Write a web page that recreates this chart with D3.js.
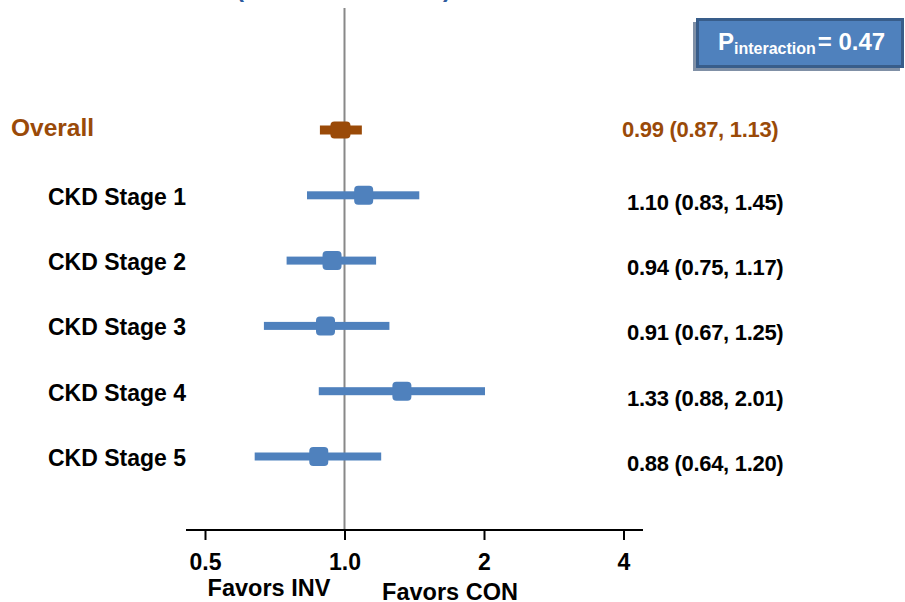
<!DOCTYPE html>
<html>
<head>
<meta charset="utf-8">
<script src="https://cdn.jsdelivr.net/npm/d3@7"></script>
<style>
	body { margin: 0; background: #fff; }
	text { font-family: "Liberation Sans", Arial, sans-serif; font-weight: bold; }
</style>
</head>
<body>
<svg id="mySVG" width="905" height="602"></svg>
<script>

// rows, top to bottom
var categories = ['Overall', 'CKD Stage 1', 'CKD Stage 2', 'CKD Stage 3', 'CKD Stage 4', 'CKD Stage 5'];
// hazard ratio and the drawn interval
var estimate = [0.98, 1.10, 0.94, 0.91, 1.33, 0.88];
var lower = [0.885, 0.83, 0.75, 0.67, 0.88, 0.64];
var upper = [1.09, 1.45, 1.17, 1.25, 2.01, 1.20];
// the printed text on the right
var ciLabels = ['0.99 (0.87, 1.13)', '1.10 (0.83, 1.45)', '0.94 (0.75, 1.17)', '0.91 (0.67, 1.25)', '1.33 (0.88, 2.01)', '0.88 (0.64, 1.20)'];
var tickValues = [0.5, 1, 2, 4];
var tickLabels = ['0.5', '1.0', '2', '4'];
var pInteraction = '0.47';

var blue = '#4F81BD';
var brown = '#9A4A08';

var svg = d3.select('#mySVG');

var x = d3.scaleLog().base(2).domain([0.5, 4]).range([205, 623.5]);
var y = d3.scalePoint().domain(categories).range([130, 456.5]);

var rows = categories.map(function(c, i) {
	return {name: c, est: estimate[i], lo: lower[i], hi: upper[i], label: ciLabels[i], overall: i == 0};
});

// bits of the cut-off title at the top
svg.append('text').attr('x', 236).attr('y', -3).attr('font-size', '24px').attr('fill', '#2E5C9E').text('(');
svg.append('text').attr('x', 443).attr('y', -3).attr('font-size', '24px').attr('fill', '#2E5C9E').text(')');

// line of no effect
svg.append('line')
	.attr('x1', x(1)).attr('x2', x(1))
	.attr('y1', 8).attr('y2', 530)
	.attr('stroke', '#888').attr('stroke-width', 2);

// confidence interval bars
svg.selectAll('rect.ci')
	.data(rows)
	.enter().append('rect')
	.attr('class', 'ci')
	.attr('x', d => x(d.lo))
	.attr('width', d => x(d.hi) - x(d.lo))
	.attr('y', d => y(d.name) - (d.overall ? 4.5 : 4))
	.attr('height', d => d.overall ? 9 : 8)
	.attr('fill', d => d.overall ? brown : blue);

// point estimates
svg.selectAll('rect.pt')
	.data(rows)
	.enter().append('rect')
	.attr('class', 'pt')
	.attr('x', d => x(d.est) - (d.overall ? 10 : 9.5))
	.attr('width', d => d.overall ? 20 : 19)
	.attr('y', d => y(d.name) - (d.overall ? 8.5 : 9.5))
	.attr('height', d => d.overall ? 17 : 19)
	.attr('rx', 4)
	.attr('fill', d => d.overall ? brown : blue);

// row names
svg.selectAll('text.name')
	.data(rows)
	.enter().append('text')
	.attr('class', 'name')
	.attr('x', d => d.overall ? 11 : 48)
	.attr('y', d => y(d.name) + (d.overall ? 6 : 9.5))
	.attr('font-size', d => d.overall ? '24.5px' : '23px')
	.attr('fill', d => d.overall ? brown : '#000')
	.text(d => d.name);

// estimates with CI
svg.selectAll('text.ci')
	.data(rows)
	.enter().append('text')
	.attr('class', 'ci')
	.attr('x', d => d.overall ? 622 : 627)
	.attr('y', d => y(d.name) + (d.overall ? 6.5 : 14.5))
	.attr('font-size', '22px')
	.attr('letter-spacing', -0.3)
	.attr('fill', d => d.overall ? brown : '#000')
	.text(d => d.label);

// x axis
var axis = d3.axisBottom(x)
	.tickValues(tickValues)
	.tickFormat((d, i) => tickLabels[i])
	.tickSizeInner(10)
	.tickSizeOuter(0)
	.tickPadding(14);

var gx = svg.append('g')
	.attr('transform', 'translate(0,530)')
	.call(axis);
gx.select('.domain').attr('d', 'M186,0H643').attr('stroke', '#000').attr('stroke-width', 2);
gx.selectAll('.tick line').attr('stroke', '#000').attr('stroke-width', 2);
gx.selectAll('.tick text')
	.attr('font-family', '"Liberation Sans", Arial, sans-serif')
	.attr('font-weight', 'bold')
	.attr('font-size', '23px')
	.attr('fill', '#000');

svg.append('text').attr('x', 269).attr('y', 596).attr('text-anchor', 'middle')
	.attr('font-size', '23.5px').text('Favors INV');
svg.append('text').attr('x', 450).attr('y', 600).attr('text-anchor', 'middle')
	.attr('font-size', '23.5px').text('Favors CON');

// P interaction box
svg.append('rect')
	.attr('x', 693).attr('y', 22).attr('width', 207).attr('height', 49)
	.attr('fill', '#2B466B').attr('opacity', 0.6);
svg.append('rect')
	.attr('x', 697.5).attr('y', 19.5).attr('width', 205).attr('height', 47)
	.attr('fill', blue).attr('stroke', '#385D8A').attr('stroke-width', 3);

var pText = svg.append('text')
	.attr('x', 718).attr('y', 50)
	.attr('fill', '#fff')
	.attr('font-size', '24px');
pText.append('tspan').text('P');
pText.append('tspan').attr('font-size', '16px').attr('dy', 4).text('interaction');
pText.append('tspan').attr('dy', -4).attr('dx', 2).text('= ' + pInteraction);

</script>
</body>
</html>
